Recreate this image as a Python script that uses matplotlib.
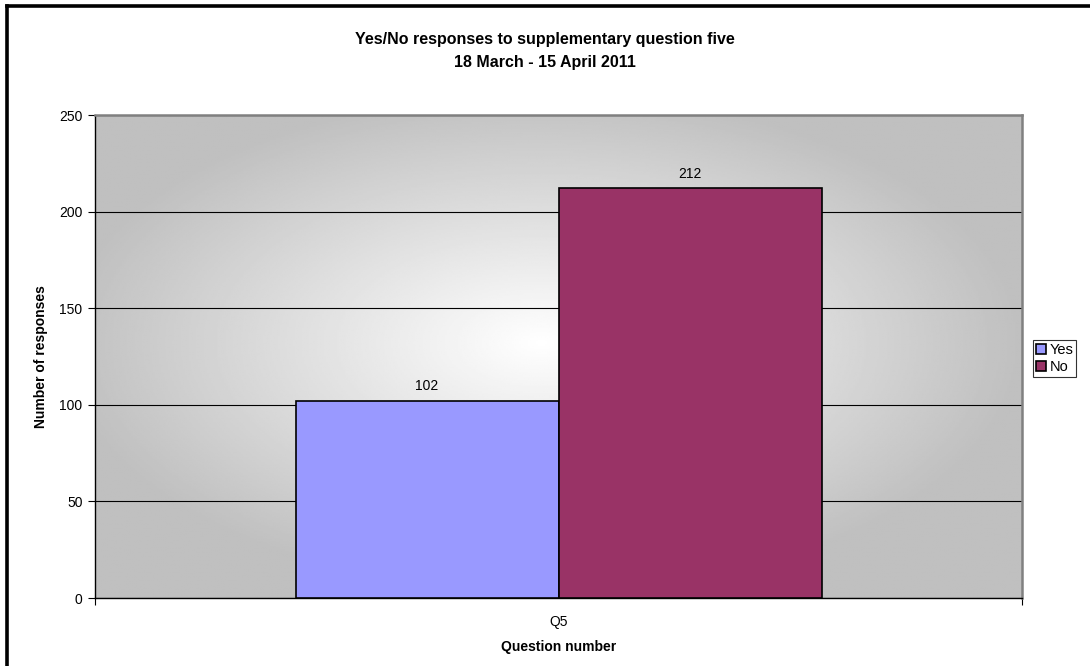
import matplotlib
matplotlib.use("Agg")
import matplotlib.pyplot as plt
import numpy as np
from matplotlib.lines import Line2D

plt.rcParams['font.family'] = ['Liberation Sans', 'DejaVu Sans']

categories = ['Q5']
series = ['Yes', 'No']
values = [102, 212]
colors = ['#9999ff', '#993366']
yticks = [0, 50, 100, 150, 200, 250]

fig = plt.figure(figsize=(10.9, 6.66), dpi=100)
ax = fig.add_axes([0.0872, 0.1021, 0.8505, 0.7252])

# radial grey-to-white fill behind the bars
ny, nx = 300, 500
yy, xx = np.mgrid[0:ny, 0:nx]
cx, cy = 0.48 * nx, 0.47 * ny
r = np.sqrt(((xx - cx) / (0.52 * nx)) ** 2 + ((yy - cy) / (0.52 * ny)) ** 2)
r = np.clip(r, 0, 1)
shade = 1.0 - (1.0 - 0.75) * r
ax.imshow(shade, cmap='gray', vmin=0, vmax=1, extent=(-0.5, 0.5, 0, 250),
          aspect='auto', origin='upper', zorder=0, interpolation='bilinear')

ax.set_xlim(-0.5, 0.5)
ax.set_ylim(0, 250)

width = 0.2837
offsets = [-width / 2, width / 2]
for name, val, col, off in zip(series, values, colors, offsets):
    ax.bar(0 + off, val, width=width, color=col, edgecolor='black',
           linewidth=1.2, label=name, zorder=3)
    ax.text(0 + off, val + 4, str(val), ha='center', va='bottom',
            fontsize=10, zorder=4)

ax.set_yticks(yticks)
ax.yaxis.grid(True, color='black', linewidth=0.8, zorder=1)
ax.set_axisbelow(True)
ax.tick_params(axis='y', direction='out', length=5, labelsize=10, pad=4)

ax.set_xticks([-0.5, 0.5])
ax.set_xticklabels(['', ''])
ax.set_xticks([0], minor=True)
ax.set_xticklabels(categories, minor=True)
ax.tick_params(axis='x', which='major', direction='out', length=5)
ax.tick_params(axis='x', which='minor', length=0, labelsize=10, pad=12)

for side in ['top', 'right']:
    ax.spines[side].set_color('#808080')
    ax.spines[side].set_linewidth(1.8)
for side in ['left', 'bottom']:
    ax.spines[side].set_color('black')
    ax.spines[side].set_linewidth(1.0)

ax.set_ylabel('Number of responses', fontsize=10, fontweight='bold', labelpad=8)
ax.set_xlabel('Question number', fontsize=10, fontweight='bold', labelpad=8)

fig.text(0.5, 0.940, 'Yes/No responses to supplementary question five',
         ha='center', va='center', fontsize=11.5, fontweight='bold')
fig.text(0.5, 0.906, '18 March - 15 April 2011',
         ha='center', va='center', fontsize=11.5, fontweight='bold')

leg = fig.legend(loc='center left', bbox_to_anchor=(0.948, 0.462),
                 fontsize=10.5, frameon=True, fancybox=False, borderpad=0.2,
                 handlelength=0.7, handleheight=0.7, handletextpad=0.2,
                 labelspacing=0.2, borderaxespad=0)
leg.get_frame().set_edgecolor('black')
leg.get_frame().set_linewidth(0.8)

# chart frame: only the top and left edges fall inside the image
fig.lines.append(Line2D([0.0065, 1.0], [0.9905, 0.9905], transform=fig.transFigure,
                        color='black', linewidth=2.6))
fig.lines.append(Line2D([0.0065, 0.0065], [0.0, 0.9905], transform=fig.transFigure,
                        color='black', linewidth=2.6))

fig.savefig('out.png', dpi=100)
